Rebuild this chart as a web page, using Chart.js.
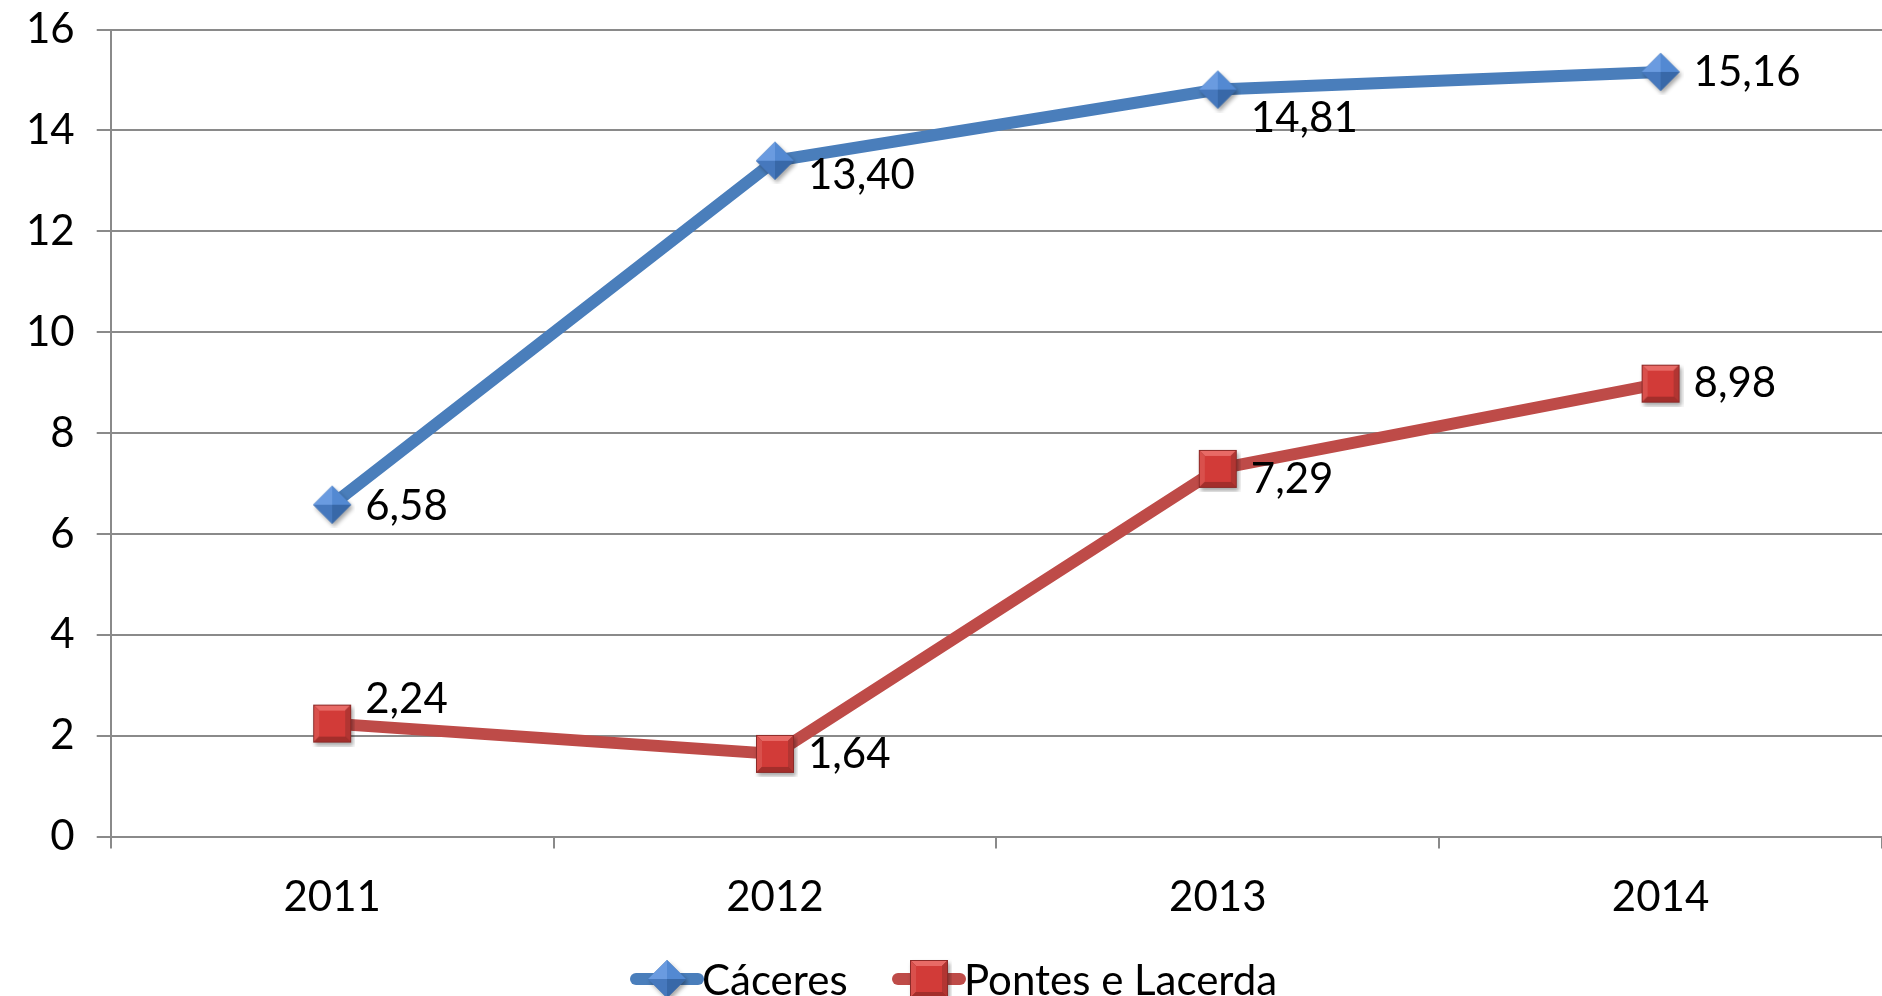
<!DOCTYPE html>
<html>
<head>
<meta charset="utf-8">
<script src="https://cdn.jsdelivr.net/npm/chart.js@4/dist/chart.umd.min.js"></script>
<style>
    html, body { margin: 0; padding: 0; background: #fff; }
    #wrap { width: 1882px; height: 996px; position: relative; }
</style>
</head>
<body>
<div id="wrap"><canvas id="chart"></canvas></div>
<script>
// Data
const years = ['2011', '2012', '2013', '2014'];
const caceres = [6.58, 13.40, 14.81, 15.16];
const pontes = [2.24, 1.64, 7.29, 8.98];
const seriesNames = ['Cáceres', 'Pontes e Lacerda'];

// Styles
const FONT = 'Lato, "Open Sans", sans-serif';
const FONT_SIZE = 42;
const blue = '#4A7EBB';
const red = '#BE4B48';
const gridGray = '#8a8a8a';

// label nudges (px) per point, like the hand-placed Excel labels
const labelDy = [[2, 15, 29, 1], [-24, 1, 11, 0]];

// Bevelled marker images (Excel 2007 look)
function makeDiamond() {
    const c = document.createElement('canvas');
    c.width = 46; c.height = 46;
    const g = c.getContext('2d');
    const cx = 23, cy = 23, r = 19;
    g.shadowColor = 'rgba(0,0,0,0.35)';
    g.shadowBlur = 4; g.shadowOffsetX = 2; g.shadowOffsetY = 3;
    g.fillStyle = '#3D6DAD';
    g.beginPath();
    g.moveTo(cx, cy - r); g.lineTo(cx + r, cy); g.lineTo(cx, cy + r); g.lineTo(cx - r, cy);
    g.closePath(); g.fill();
    g.shadowColor = 'transparent';
    // facets
    const facet = (pts, col) => {
        g.fillStyle = col; g.beginPath();
        g.moveTo(pts[0][0], pts[0][1]);
        pts.slice(1).forEach(p => g.lineTo(p[0], p[1]));
        g.closePath(); g.fill();
    };
    facet([[cx, cy - r], [cx - r, cy], [cx, cy]], '#6A9BE0');
    facet([[cx, cy - r], [cx + r, cy], [cx, cy]], '#5389D2');
    facet([[cx - r, cy], [cx, cy + r], [cx, cy]], '#4678BD');
    facet([[cx + r, cy], [cx, cy + r], [cx, cy]], '#3868A8');
    return c;
}

function makeSquare() {
    const c = document.createElement('canvas');
    c.width = 46; c.height = 46;
    const g = c.getContext('2d');
    const x0 = 4, y0 = 4, s = 38, b = 5;
    g.shadowColor = 'rgba(0,0,0,0.35)';
    g.shadowBlur = 4; g.shadowOffsetX = 2; g.shadowOffsetY = 3;
    g.fillStyle = '#8C2A28';
    g.fillRect(x0, y0, s, s);
    g.shadowColor = 'transparent';
    const quad = (pts, col) => {
        g.fillStyle = col; g.beginPath();
        g.moveTo(pts[0][0], pts[0][1]);
        pts.slice(1).forEach(p => g.lineTo(p[0], p[1]));
        g.closePath(); g.fill();
    };
    const x1 = x0 + 1, y1 = y0 + 1, x2 = x0 + s - 1, y2 = y0 + s - 1;
    quad([[x1, y1], [x2, y1], [x2 - b, y1 + b], [x1 + b, y1 + b]], '#E86A66');
    quad([[x1, y1], [x1 + b, y1 + b], [x1 + b, y2 - b], [x1, y2]], '#D9504C');
    quad([[x2, y1], [x2, y2], [x2 - b, y2 - b], [x2 - b, y1 + b]], '#B23532');
    quad([[x1, y2], [x1 + b, y2 - b], [x2 - b, y2 - b], [x2, y2]], '#A32E2B');
    g.fillStyle = '#D23B38';
    g.fillRect(x1 + b, y1 + b, s - 2 - 2 * b, s - 2 - 2 * b);
    return c;
}

const diamondImg = makeDiamond();
const squareImg = makeSquare();
const markerImgs = [diamondImg, squareImg];

// Value labels to the right of each marker
const valueLabels = {
    id: 'valueLabels',
    afterDatasetsDraw(chart) {
        const ctx = chart.ctx;
        ctx.save();
        ctx.font = `${FONT_SIZE}px ${FONT}`;
        ctx.fillStyle = '#000';
        ctx.textAlign = 'left';
        ctx.textBaseline = 'middle';
        chart.data.datasets.forEach((ds, di) => {
            chart.getDatasetMeta(di).data.forEach((pt, i) => {
                const txt = ds.data[i].toFixed(2).replace('.', ',');
                ctx.fillText(txt, pt.x + 33, pt.y + labelDy[di][i]);
            });
        });
        ctx.restore();
    }
};

// Legend drawn as line + marker like the original
const lineLegend = {
    id: 'lineLegend',
    afterDraw(chart) {
        const ctx = chart.ctx;
        const y = 979;
        const items = [
            { x: 636, color: blue },
            { x: 898, color: red }
        ];
        ctx.save();
        ctx.font = `${FONT_SIZE}px ${FONT}`;
        ctx.textBaseline = 'middle';
        items.forEach((it, i) => {
            ctx.strokeStyle = it.color;
            ctx.lineWidth = 12;
            ctx.lineCap = 'round';
            ctx.beginPath();
            ctx.moveTo(it.x, y);
            ctx.lineTo(it.x + 62, y);
            ctx.stroke();
            const img = markerImgs[i];
            ctx.drawImage(img, it.x + 31 - 23, y - 23);
            ctx.fillStyle = '#000';
            ctx.fillText(seriesNames[i], it.x + 66, y + 2);
        });
        ctx.restore();
    }
};

new Chart(document.getElementById('chart'), {
    type: 'line',
    data: {
        labels: years,
        datasets: [
            {
                label: seriesNames[0],
                data: caceres,
                borderColor: blue,
                borderWidth: 12,
                pointStyle: diamondImg,
                pointRadius: 19,
                tension: 0
            },
            {
                label: seriesNames[1],
                data: pontes,
                borderColor: red,
                borderWidth: 12,
                pointStyle: squareImg,
                pointRadius: 19,
                tension: 0
            }
        ]
    },
    options: {
        responsive: true,
        maintainAspectRatio: false,
        animation: false,
        layout: { autoPadding: false, padding: { left: 4, right: 0, top: 0, bottom: 49 } },
        plugins: {
            legend: { display: false },
            tooltip: { enabled: false }
        },
        scales: {
            x: {
                offset: true,
                grid: { offset: true, drawOnChartArea: false, drawTicks: true, tickLength: 12, color: gridGray, lineWidth: 2 },
                border: { color: gridGray, width: 2 },
                ticks: { color: '#000', font: { family: FONT, size: FONT_SIZE }, padding: 24 }
            },
            y: {
                min: 0,
                max: 16,
                ticks: { stepSize: 2, color: '#000', font: { family: FONT, size: FONT_SIZE, lineHeight: 0.36 }, padding: 22 },
                grid: { color: gridGray, lineWidth: 2, tickLength: 14 },
                border: { color: gridGray, width: 2 }
            }
        }
    },
    plugins: [valueLabels, lineLegend]
});
</script>
</body>
</html>
